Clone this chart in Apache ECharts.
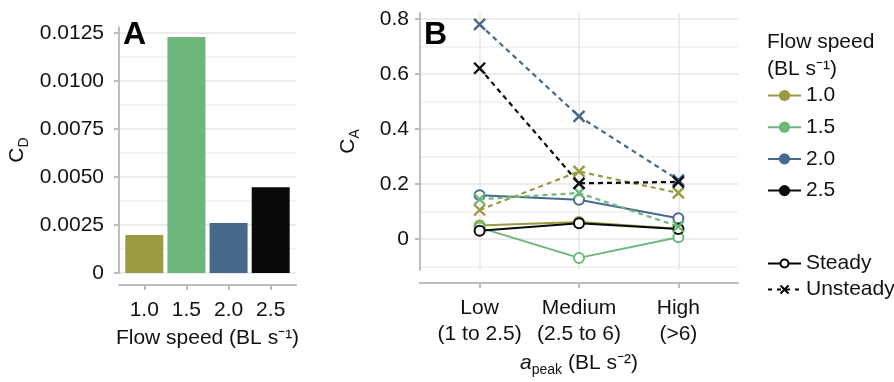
<!DOCTYPE html>
<html>
<head>
<meta charset="utf-8">
<script src="https://cdn.jsdelivr.net/npm/echarts@6/dist/echarts.min.js"></script>
<style>html,body{margin:0;padding:0;background:#fff}#c{width:894px;height:382px}</style>
</head>
<body>
<div id="c"></div>
<script>
// ---- data ----
const speeds = ['1.0', '1.5', '2.0', '2.5'];
const speedPos = [1, 2, 3, 4];
const cdValues = [0.00198, 0.01229, 0.00260, 0.00446];
const accelLabels = ['Low\n(1 to 2.5)', 'Medium\n(2.5 to 6)', 'High\n(>6)'];
const accelPos = [1, 2, 3];
const caSteady = {
  '1.0': [0.050, 0.062, 0.038],
  '1.5': [0.042, -0.068, 0.007],
  '2.0': [0.160, 0.143, 0.076],
  '2.5': [0.031, 0.058, 0.037]
};
const caUnsteady = {
  '1.0': [0.106, 0.246, 0.168],
  '1.5': [0.145, 0.168, 0.046],
  '2.0': [0.780, 0.446, 0.215],
  '2.5': [0.621, 0.203, 0.208]
};
const cdTicks = [0, 0.0025, 0.005, 0.0075, 0.01, 0.0125];
const cdMinorTicks = [0.00125, 0.00375, 0.00625, 0.00875, 0.01125];
const caTicks = [0, 0.2, 0.4, 0.6, 0.8];
const caMinorTicks = [-0.1, 0.1, 0.3, 0.5, 0.7];

// ---- styles ----
const colors = {'1.0': '#999a42', '1.5': '#6db77a', '2.0': '#476a8a', '2.5': '#0a0a0a'};
const FONT = 'Liberation Sans, Arial, Helvetica, sans-serif';
const FS = 21;
const TXT = '#111';
const AXIS = '#bdbdbd';
const GRID = '#e6e6e6';
const MINOR = '#f0f0f0';
const crossPath = 'path://M0,0L10,10M10,0L0,10';

const chart = echarts.init(document.getElementById('c'), null, {renderer: 'canvas'});

const subRich = {
  m: {fontSize: FS, fontFamily: FONT, color: TXT, lineHeight: 28},
  i: {fontSize: FS, fontFamily: FONT, color: TXT, fontStyle: 'italic', lineHeight: 28},
  sub: {fontSize: 14, fontFamily: FONT, color: TXT, verticalAlign: 'bottom', lineHeight: 12},
  sup: {fontSize: 13, fontFamily: FONT, color: TXT, verticalAlign: 'top', lineHeight: 12}
};

function yAxisMain(gridIndex, min, max, ticks, fmt, margin, name, nameGap) {
  return {
    type: 'value', gridIndex, min, max,
    axisLine: {show: true, onZero: false, lineStyle: {color: AXIS, width: 2}},
    axisTick: {show: true, length: 5, customValues: ticks, lineStyle: {color: AXIS, width: 2}},
    axisLabel: {customValues: ticks, formatter: fmt, margin, fontSize: FS, fontFamily: FONT, color: TXT},
    splitLine: {show: true, lineStyle: {color: GRID, width: 1.5}},
    name, nameLocation: 'middle', nameGap, nameRotate: 90,
    nameTextStyle: {rich: subRich}
  };
}
function yAxisMinor(gridIndex, min, max, ticks) {
  return {
    type: 'value', gridIndex, min, max, position: 'left',
    axisLine: {show: false, onZero: false}, axisLabel: {show: false},
    axisTick: {show: false, customValues: ticks},
    splitLine: {show: true, lineStyle: {color: MINOR, width: 1.5}}
  };
}

const series = [];
// bars (panel A)
series.push({
  type: 'bar', xAxisIndex: 0, yAxisIndex: 0, barWidth: 38,
  data: speedPos.map((p, i) => ({value: [p, cdValues[i]], itemStyle: {color: colors[speeds[i]]}})),
  silent: true
});
// lines (panel B)
speeds.forEach(s => {
  series.push({
    name: s + ' steady', type: 'line', xAxisIndex: 1, yAxisIndex: 2,
    data: accelPos.map((p, i) => [p, caSteady[s][i]]),
    symbol: 'emptyCircle', symbolSize: 10,
    lineStyle: {color: colors[s], width: 2},
    itemStyle: {color: colors[s], borderWidth: 1.6},
    z: 3, silent: true
  });
});
speeds.forEach(s => {
  series.push({
    name: s + ' unsteady', type: 'line', xAxisIndex: 1, yAxisIndex: 2,
    data: accelPos.map((p, i) => [p, caUnsteady[s][i]]),
    symbol: crossPath, symbolSize: 11,
    lineStyle: {color: colors[s], width: 2.2, type: [5, 4]},
    itemStyle: {color: colors[s], borderColor: colors[s], borderWidth: 2.4},
    z: 4, silent: true
  });
});
// legend-only series
speeds.forEach(s => {
  series.push({
    name: s, type: 'line', xAxisIndex: 1, yAxisIndex: 2, data: [],
    symbol: 'circle', lineStyle: {color: colors[s], width: 2.5}, itemStyle: {color: colors[s]}
  });
});
series.push({name: 'Steady', type: 'line', xAxisIndex: 1, yAxisIndex: 2, data: [],
  symbol: 'emptyCircle', lineStyle: {color: '#000', width: 2}, itemStyle: {color: '#000'}});
series.push({name: 'Unsteady', type: 'line', xAxisIndex: 1, yAxisIndex: 2, data: [],
  symbol: crossPath, lineStyle: {color: '#000', width: 2, type: [4, 5]},
  itemStyle: {color: '#000', borderColor: '#000', borderWidth: 1.8}});

const option = {
  animation: false,
  backgroundColor: '#fff',
  textStyle: {fontFamily: FONT},
  title: [
    {text: 'A', left: 123, top: 19, padding: 0, textStyle: {fontSize: 32, fontWeight: 'bold', color: '#000', fontFamily: FONT}},
    {text: 'B', left: 424, top: 19, padding: 0, textStyle: {fontSize: 32, fontWeight: 'bold', color: '#000', fontFamily: FONT}},
    {text: 'Flow speed\n(BL s⁻¹)', left: 767, top: 28.5, padding: 0,
      textStyle: {fontSize: FS, fontWeight: 'normal', color: TXT, fontFamily: FONT, lineHeight: 27}}
  ],
  legend: [
    {data: speeds, orient: 'vertical', left: 767, top: 85, padding: 0, itemWidth: 33, itemHeight: 14, itemGap: 10.7,
      selectedMode: false, textStyle: {fontSize: FS, fontFamily: FONT, color: TXT}},
    {data: ['Steady', 'Unsteady'], orient: 'vertical', left: 767, top: 253, padding: 0, itemWidth: 33, itemHeight: 10, itemGap: 5,
      selectedMode: false, textStyle: {fontSize: FS, fontFamily: FONT, color: TXT}}
  ],
  grid: [
    {left: 119, top: 27.2, width: 177, height: 245.8},
    {left: 420, top: 12.9, width: 318, height: 259.2}
  ],
  xAxis: [
    {type: 'value', gridIndex: 0, min: 0.4, max: 4.6, offset: 12,
      axisLine: {show: true, onZero: false, lineStyle: {color: AXIS, width: 2}},
      axisTick: {show: true, length: 5, customValues: speedPos, lineStyle: {color: AXIS, width: 2}},
      axisLabel: {customValues: speedPos, formatter: v => speeds[Math.round(v) - 1], margin: 15,
        fontSize: FS, fontFamily: FONT, color: TXT},
      splitLine: {show: false},
      name: '{m|Flow speed (BL s⁻¹)}', nameLocation: 'middle', nameGap: 39,
      nameTextStyle: {rich: subRich}},
    {type: 'value', gridIndex: 1, min: 0.4, max: 3.6, offset: 13,
      axisLine: {show: true, onZero: false, lineStyle: {color: AXIS, width: 2}},
      axisTick: {show: true, length: 5, customValues: accelPos, lineStyle: {color: AXIS, width: 2}},
      axisLabel: {customValues: accelPos, formatter: v => accelLabels[Math.round(v) - 1], margin: 12.5,
        fontSize: FS, fontFamily: FONT, color: TXT, lineHeight: 26},
      splitLine: {show: true, lineStyle: {color: GRID, width: 1.5}},
      name: '{i|a}{sub|peak}{m| (BL s⁻²)}', nameLocation: 'middle', nameGap: 66,
      nameTextStyle: {rich: subRich}}
  ],
  yAxis: [
    yAxisMain(0, 0, 0.0128, cdTicks, v => v === 0 ? '0' : v.toFixed(4), 15, '{m|C}{sub|D}', 88),
    yAxisMinor(0, 0, 0.0128, cdMinorTicks),
    yAxisMain(1, -0.112, 0.822, caTicks, v => v === 0 ? '0' : v.toFixed(1), 11, '{m|C}{sub|A}', 58),
    yAxisMinor(1, -0.112, 0.822, caMinorTicks)
  ],
  series
};
chart.setOption(option);
</script>
</body>
</html>
